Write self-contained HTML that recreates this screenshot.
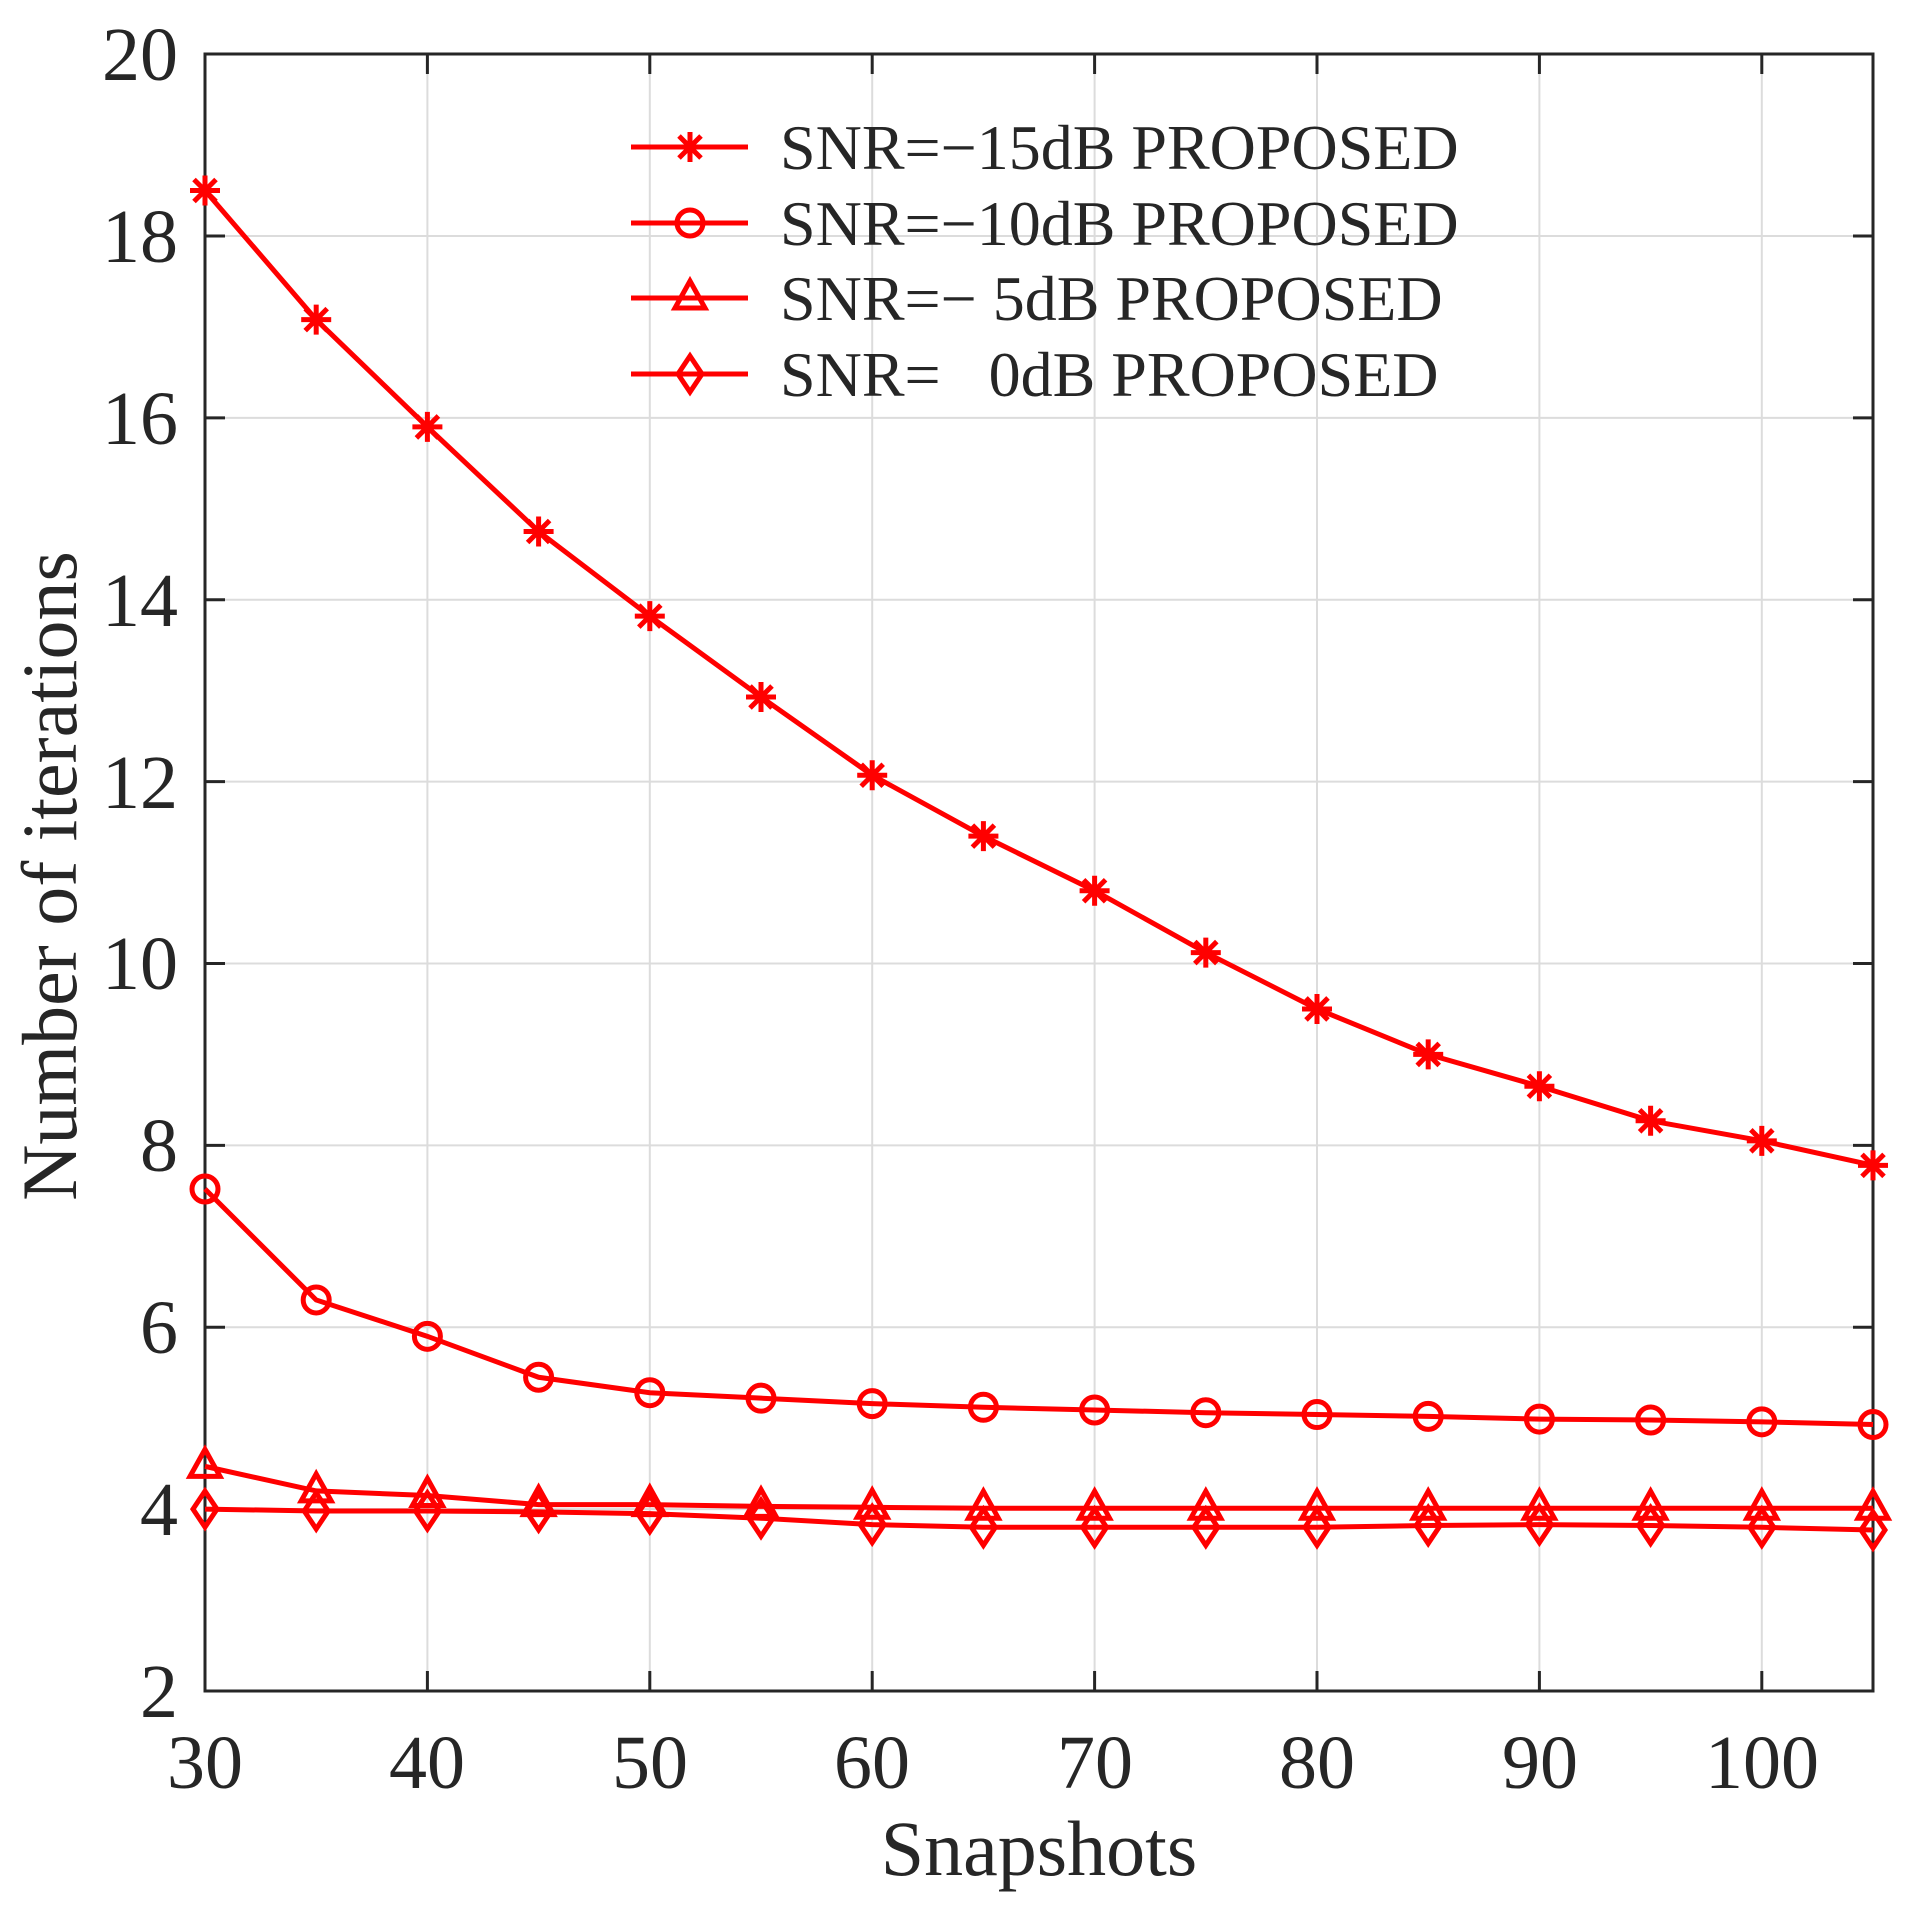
<!DOCTYPE html>
<html><head><meta charset="utf-8"><style>
html,body{margin:0;padding:0;background:#fff;}
svg{display:block;}
text{font-family:"Liberation Serif",serif;fill:#262626;}
</style></head><body>
<svg id="s" width="1913" height="1916" viewBox="0 0 1913 1916" xmlns="http://www.w3.org/2000/svg">
<rect width="1913" height="1916" fill="#fff"/>
<g id="grid" stroke="#dcdcdc" stroke-width="2"></g>
<g id="ticks" stroke="#262626" stroke-width="3"></g>
<rect x="205" y="54" width="1668" height="1637" fill="none" stroke="#262626" stroke-width="3"/>
<g font-size="76" text-anchor="end">
<text x="178" y="1717">2</text>
<text x="178" y="1535">4</text>
<text x="178" y="1353">6</text>
<text x="178" y="1171">8</text>
<text x="178" y="989">10</text>
<text x="178" y="808">12</text>
<text x="178" y="626">14</text>
<text x="178" y="444">16</text>
<text x="178" y="262">18</text>
<text x="178" y="80">20</text>
</g>
<g font-size="76" text-anchor="middle">
<text x="205" y="1788">30</text>
<text x="427" y="1788">40</text>
<text x="650" y="1788">50</text>
<text x="872" y="1788">60</text>
<text x="1095" y="1788">70</text>
<text x="1317" y="1788">80</text>
<text x="1540" y="1788">90</text>
<text x="1762" y="1788">100</text>
<text x="1039" y="1875" font-size="78">Snapshots</text>
<text transform="translate(76,876) rotate(-90)" font-size="78">Number of iterations</text>
</g>
<g id="series" fill="none" stroke="#ff0000" stroke-width="5"></g>
<g font-size="64">
<text x="780" y="169">SNR=−15dB PROPOSED</text>
<text x="780" y="245">SNR=−10dB PROPOSED</text>
<text x="780" y="320">SNR=− 5dB PROPOSED</text>
<text x="780" y="396" xml:space="preserve">SNR=   0dB PROPOSED</text>
</g>
</svg>
<script>
const NS="http://www.w3.org/2000/svg";
function el(p,t,a){const e=document.createElementNS(NS,t);for(const k in a)e.setAttribute(k,a[k]);p.appendChild(e);return e;}
const X=v=>205+(v-30)*22.24, Y=v=>1691-(v-2)*90.94;
const g=document.getElementById('grid'),tk=document.getElementById('ticks');
for(let v=40;v<=100;v+=10){el(g,'line',{x1:X(v),x2:X(v),y1:54,y2:1691});el(tk,'line',{x1:X(v),x2:X(v),y1:1691,y2:1671});el(tk,'line',{x1:X(v),x2:X(v),y1:54,y2:74});}
for(let v=4;v<=18;v+=2){el(g,'line',{x1:205,x2:1873,y1:Y(v),y2:Y(v)});el(tk,'line',{x1:205,x2:225,y1:Y(v),y2:Y(v)});el(tk,'line',{x1:1873,x2:1853,y1:Y(v),y2:Y(v)});}
const D=[
[18.5,17.08,15.9,14.75,13.82,12.93,12.07,11.4,10.8,10.12,9.5,9.0,8.65,8.27,8.05,7.78],
[7.52,6.3,5.9,5.45,5.28,5.22,5.16,5.12,5.09,5.06,5.04,5.02,4.99,4.98,4.96,4.93],
[4.47,4.2,4.15,4.05,4.05,4.03,4.02,4.01,4.01,4.01,4.01,4.01,4.01,4.01,4.01,4.01],
[4.0,3.98,3.98,3.97,3.95,3.9,3.83,3.8,3.8,3.8,3.8,3.82,3.83,3.82,3.8,3.77]];
const s=document.getElementById('series');
function marker(type,x,y){const r=15;
 if(type==0){el(s,'path',{d:`M${x-r} ${y}H${x+r}M${x} ${y-r}V${y+r}M${x-11} ${y-11}L${x+11} ${y+11}M${x-11} ${y+11}L${x+11} ${y-11}`});}
 else if(type==1){el(s,'circle',{cx:x,cy:y,r:13});}
 else if(type==2){el(s,'path',{d:`M${x} ${y-17}L${x+15} ${y+10}L${x-15} ${y+10}Z`});}
 else {el(s,'path',{d:`M${x} ${y-18}L${x+12} ${y}L${x} ${y+18}L${x-12} ${y}Z`});}
}
D.forEach((d,i)=>{
 el(s,'polyline',{points:d.map((v,j)=>X(30+5*j)+','+Y(v)).join(' ')});
 d.forEach((v,j)=>marker(i,X(30+5*j),Y(v)));
 const ly=[147,223,298,374][i];
 el(s,'line',{x1:631,x2:748,y1:ly,y2:ly});marker(i,690,ly);
});
</script>
</body></html>
